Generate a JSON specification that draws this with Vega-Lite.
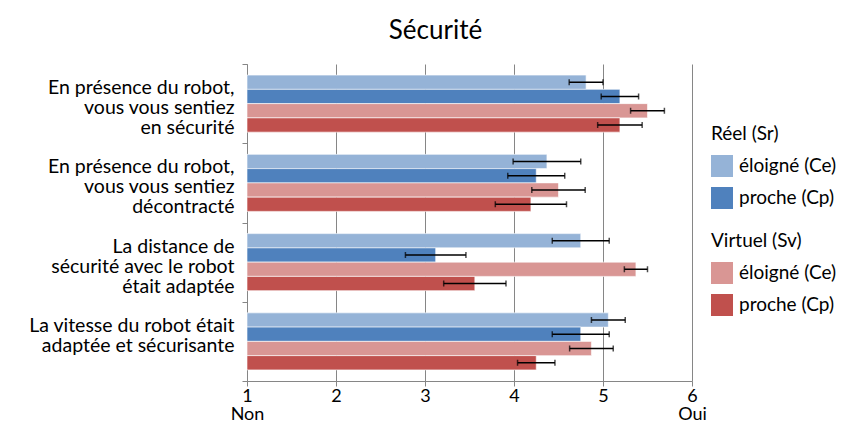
{
  "$schema": "https://vega.github.io/schema/vega-lite/v6.json",
  "width": 445,
  "height": 317,
  "autosize": {"type": "none"},
  "padding": {"left": 247, "top": 64, "right": 153, "bottom": 40},
  "background": "white",
  "config": {
    "font": "Lato",
    "view": {"stroke": null},
    "axis": {"labelFont": "Lato", "labelColor": "black", "titleFont": "Lato"},
    "legend": {"labelFont": "Lato", "titleFont": "Lato"}
  },
  "title": {
    "text": "Sécurité",
    "fontSize": 26,
    "fontWeight": "normal",
    "color": "black",
    "font": "Lato",
    "anchor": "middle",
    "frame": "group",
    "dx": -34,
    "offset": 10
  },
  "data": {
    "values": [
      {"q": "En présence du robot,|vous vous sentiez|en sécurité", "grp": "Réel", "cond": "éloigné (Ce)", "s": "Sr-Ce", "mean": 4.81, "err": 0.19},
      {"q": "En présence du robot,|vous vous sentiez|en sécurité", "grp": "Réel", "cond": "proche (Cp)", "s": "Sr-Cp", "mean": 5.19, "err": 0.21},
      {"q": "En présence du robot,|vous vous sentiez|en sécurité", "grp": "Virtuel", "cond": "éloigné (Ce)", "s": "Sv-Ce", "mean": 5.5, "err": 0.19},
      {"q": "En présence du robot,|vous vous sentiez|en sécurité", "grp": "Virtuel", "cond": "proche (Cp)", "s": "Sv-Cp", "mean": 5.19, "err": 0.25},
      {"q": "En présence du robot,|vous vous sentiez|décontracté", "grp": "Réel", "cond": "éloigné (Ce)", "s": "Sr-Ce", "mean": 4.37, "err": 0.38},
      {"q": "En présence du robot,|vous vous sentiez|décontracté", "grp": "Réel", "cond": "proche (Cp)", "s": "Sr-Cp", "mean": 4.25, "err": 0.32},
      {"q": "En présence du robot,|vous vous sentiez|décontracté", "grp": "Virtuel", "cond": "éloigné (Ce)", "s": "Sv-Ce", "mean": 4.5, "err": 0.3},
      {"q": "En présence du robot,|vous vous sentiez|décontracté", "grp": "Virtuel", "cond": "proche (Cp)", "s": "Sv-Cp", "mean": 4.19, "err": 0.4},
      {"q": "La distance de|sécurité avec le robot|était adaptée", "grp": "Réel", "cond": "éloigné (Ce)", "s": "Sr-Ce", "mean": 4.75, "err": 0.32},
      {"q": "La distance de|sécurité avec le robot|était adaptée", "grp": "Réel", "cond": "proche (Cp)", "s": "Sr-Cp", "mean": 3.12, "err": 0.34},
      {"q": "La distance de|sécurité avec le robot|était adaptée", "grp": "Virtuel", "cond": "éloigné (Ce)", "s": "Sv-Ce", "mean": 5.37, "err": 0.13},
      {"q": "La distance de|sécurité avec le robot|était adaptée", "grp": "Virtuel", "cond": "proche (Cp)", "s": "Sv-Cp", "mean": 3.56, "err": 0.35},
      {"q": "La vitesse du robot était|adaptée et sécurisante", "grp": "Réel", "cond": "éloigné (Ce)", "s": "Sr-Ce", "mean": 5.06, "err": 0.19},
      {"q": "La vitesse du robot était|adaptée et sécurisante", "grp": "Réel", "cond": "proche (Cp)", "s": "Sr-Cp", "mean": 4.75, "err": 0.32},
      {"q": "La vitesse du robot était|adaptée et sécurisante", "grp": "Virtuel", "cond": "éloigné (Ce)", "s": "Sv-Ce", "mean": 4.87, "err": 0.245},
      {"q": "La vitesse du robot était|adaptée et sécurisante", "grp": "Virtuel", "cond": "proche (Cp)", "s": "Sv-Cp", "mean": 4.25, "err": 0.21}
    ]
  },
  "encoding": {
    "y": {
      "field": "q",
      "type": "nominal",
      "sort": null,
      "title": null,
      "scale": {"paddingInner": 0, "paddingOuter": 0},
      "axis": {
        "labelExpr": "split(datum.label, '|')",
        "labelFontSize": 19.5,
        "labelLineHeight": 20,
        "labelPadding": 8,
        "labelLimit": 300,
        "labelOffset": -16,
        "tickBand": "extent",
        "tickSize": 5,
        "tickColor": "#868686",
        "domainColor": "#868686",
        "grid": false
      }
    },
    "yOffset": {
      "field": "s",
      "type": "nominal",
      "scale": {"domain": ["Sr-Ce", "Sr-Cp", "Sv-Ce", "Sv-Cp"], "paddingInner": 0, "paddingOuter": 0.78}
    }
  },
  "layer": [
    {
      "transform": [{"filter": "datum.grp == 'Réel'"}],
      "mark": {"type": "bar", "stroke": "white", "strokeWidth": 1, "strokeOpacity": 0.6},
      "encoding": {
        "x": {
          "field": "mean",
          "type": "quantitative",
          "scale": {"domain": [1, 6], "nice": false, "zero": false},
          "title": null,
          "axis": {
            "values": [1, 2, 3, 4, 5, 6],
            "format": "d",
            "labelExpr": "datum.value == 1 ? ['1', 'Non'] : datum.value == 6 ? ['6', 'Oui'] : datum.label",
            "labelFontSize": 18,
            "labelLineHeight": 18,
            "labelPadding": 1,
            "labelFlush": false,
            "grid": true,
            "gridColor": "#868686",
            "gridWidth": 1,
            "tickColor": "#868686",
            "tickSize": 5,
            "domainColor": "#868686"
          }
        },
        "x2": {"datum": 1},
        "color": {
          "field": "cond",
          "type": "nominal",
          "scale": {"domain": ["éloigné (Ce)", "proche (Cp)"], "range": ["#95B3D7", "#4F81BD"]},
          "legend": {
            "title": "Réel (Sr)",
            "orient": "none",
            "legendX": 464,
            "legendY": 61,
            "symbolType": "square",
            "symbolSize": 484,
            "symbolStrokeWidth": 0,
            "labelFontSize": 19,
            "labelColor": "black",
            "titleFontSize": 19,
            "titleFontWeight": "normal",
            "titleColor": "black",
            "titlePadding": 11,
            "rowPadding": 10,
            "labelOffset": 6
          }
        }
      }
    },
    {
      "transform": [{"filter": "datum.grp == 'Virtuel'"}],
      "mark": {"type": "bar", "stroke": "white", "strokeWidth": 1, "strokeOpacity": 0.6},
      "encoding": {
        "x": {"field": "mean", "type": "quantitative"},
        "x2": {"datum": 1},
        "color": {
          "field": "cond",
          "type": "nominal",
          "scale": {"domain": ["éloigné (Ce)", "proche (Cp)"], "range": ["#D99694", "#C0504D"]},
          "legend": {
            "title": "Virtuel (Sv)",
            "orient": "none",
            "legendX": 464,
            "legendY": 168,
            "symbolType": "square",
            "symbolSize": 484,
            "symbolStrokeWidth": 0,
            "labelFontSize": 19,
            "labelColor": "black",
            "titleFontSize": 19,
            "titleFontWeight": "normal",
            "titleColor": "black",
            "titlePadding": 11,
            "rowPadding": 10,
            "labelOffset": 6
          }
        }
      }
    },
    {
      "transform": [
        {"calculate": "datum.mean - datum.err", "as": "lo"},
        {"calculate": "datum.mean + datum.err", "as": "hi"}
      ],
      "mark": {"type": "rule", "color": "black", "strokeWidth": 1.5},
      "encoding": {
        "x": {"field": "lo", "type": "quantitative"},
        "x2": {"field": "hi"}
      }
    },
    {
      "transform": [{"calculate": "datum.mean - datum.err", "as": "lo"}],
      "mark": {"type": "tick", "color": "black", "thickness": 1.5, "size": 6},
      "encoding": {"x": {"field": "lo", "type": "quantitative"}}
    },
    {
      "transform": [{"calculate": "datum.mean + datum.err", "as": "hi"}],
      "mark": {"type": "tick", "color": "black", "thickness": 1.5, "size": 6},
      "encoding": {"x": {"field": "hi", "type": "quantitative"}}
    }
  ],
  "resolve": {"scale": {"color": "independent"}, "legend": {"color": "independent"}}
}
